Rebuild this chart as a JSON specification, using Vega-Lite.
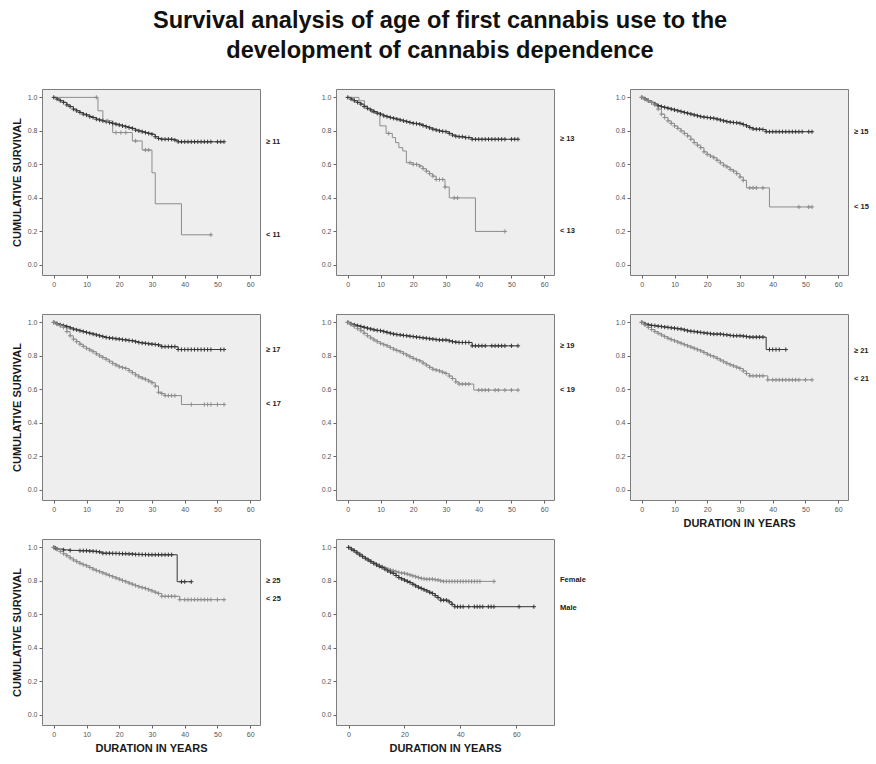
{
"$schema":"https://vega.github.io/schema/vega-lite/v6.json",
"background":"white",
"padding":{"left":10,"top":8,"right":5,"bottom":5},
"title":{"text":["Survival analysis of age of first cannabis use to the","development of cannabis dependence"],"font":"Liberation Sans","fontSize":23.6,"fontWeight":"bold","color":"#111111","lineHeight":30,"offset":26,"anchor":"middle"},
"bounds":"flush",
"columns":3,
"spacing":{"row":39,"column":76},
"datasets":{
"lab":[
{"p":1,"g":"d","txt":"≥ 11","s":0.735},{"p":1,"g":"l","txt":"< 11","s":0.18},
{"p":2,"g":"d","txt":"≥ 13","s":0.75},{"p":2,"g":"l","txt":"< 13","s":0.2},
{"p":3,"g":"d","txt":"≥ 15","s":0.795},{"p":3,"g":"l","txt":"< 15","s":0.346},
{"p":4,"g":"d","txt":"≥ 17","s":0.838},{"p":4,"g":"l","txt":"< 17","s":0.51},
{"p":5,"g":"d","txt":"≥ 19","s":0.86},{"p":5,"g":"l","txt":"< 19","s":0.596},
{"p":6,"g":"d","txt":"≥ 21","s":0.828},{"p":6,"g":"l","txt":"< 21","s":0.66},
{"p":7,"g":"d","txt":"≥ 25","s":0.8},{"p":7,"g":"l","txt":"< 25","s":0.69},
{"p":8,"g":"l","txt":"Female","s":0.805},{"p":8,"g":"d","txt":"Male","s":0.64}
],
"km":[
{"p":1,"g":"d","t":0,"s":1},{"p":1,"g":"d","t":1,"s":0.99},{"p":1,"g":"d","t":2,"s":0.98},{"p":1,"g":"d","t":3,"s":0.97},{"p":1,"g":"d","t":4,"s":0.955},{"p":1,"g":"d","t":5,"s":0.945},{"p":1,"g":"d","t":6,"s":0.93},{"p":1,"g":"d","t":7,"s":0.92},{"p":1,"g":"d","t":8,"s":0.91},{"p":1,"g":"d","t":9,"s":0.9},{"p":1,"g":"d","t":10,"s":0.895},{"p":1,"g":"d","t":11,"s":0.885},{"p":1,"g":"d","t":12,"s":0.88},{"p":1,"g":"d","t":13,"s":0.87},{"p":1,"g":"d","t":14,"s":0.865},{"p":1,"g":"d","t":15,"s":0.86},{"p":1,"g":"d","t":16,"s":0.855},{"p":1,"g":"d","t":17,"s":0.85},{"p":1,"g":"d","t":18,"s":0.845},{"p":1,"g":"d","t":19,"s":0.84},{"p":1,"g":"d","t":20,"s":0.835},{"p":1,"g":"d","t":21,"s":0.83},{"p":1,"g":"d","t":22,"s":0.825},{"p":1,"g":"d","t":23,"s":0.82},{"p":1,"g":"d","t":24,"s":0.815},{"p":1,"g":"d","t":25,"s":0.805},{"p":1,"g":"d","t":26,"s":0.8},{"p":1,"g":"d","t":27,"s":0.795},{"p":1,"g":"d","t":28,"s":0.79},{"p":1,"g":"d","t":29,"s":0.785},{"p":1,"g":"d","t":30,"s":0.78},{"p":1,"g":"d","t":31,"s":0.765},{"p":1,"g":"d","t":32,"s":0.755},{"p":1,"g":"d","t":33,"s":0.75},{"p":1,"g":"d","t":34,"s":0.75},{"p":1,"g":"d","t":35,"s":0.75},{"p":1,"g":"d","t":36,"s":0.75},{"p":1,"g":"d","t":37,"s":0.745},{"p":1,"g":"d","t":38,"s":0.735},{"p":1,"g":"d","t":39,"s":0.735},{"p":1,"g":"d","t":40,"s":0.735},{"p":1,"g":"d","t":41,"s":0.735},{"p":1,"g":"d","t":42,"s":0.735},{"p":1,"g":"d","t":43,"s":0.735},{"p":1,"g":"d","t":44,"s":0.735},{"p":1,"g":"d","t":45,"s":0.735},{"p":1,"g":"d","t":46,"s":0.735},{"p":1,"g":"d","t":47,"s":0.735},{"p":1,"g":"d","t":48,"s":0.735},{"p":1,"g":"d","t":50,"s":0.735},{"p":1,"g":"d","t":51,"s":0.735},{"p":1,"g":"d","t":52,"s":0.735},
{"p":1,"g":"l","t":0,"s":1,"c":0},{"p":1,"g":"l","t":13,"s":1},{"p":1,"g":"l","t":13.5,"s":0.92,"c":0},{"p":1,"g":"l","t":15,"s":0.86,"c":0},{"p":1,"g":"l","t":16.5,"s":0.86},{"p":1,"g":"l","t":18,"s":0.79,"c":0},{"p":1,"g":"l","t":19,"s":0.79},{"p":1,"g":"l","t":20.5,"s":0.79},{"p":1,"g":"l","t":22,"s":0.79},{"p":1,"g":"l","t":24,"s":0.74,"c":0},{"p":1,"g":"l","t":25,"s":0.74},{"p":1,"g":"l","t":27,"s":0.686,"c":0},{"p":1,"g":"l","t":28,"s":0.686},{"p":1,"g":"l","t":29,"s":0.686},{"p":1,"g":"l","t":30,"s":0.55,"c":0},{"p":1,"g":"l","t":31,"s":0.365,"c":0},{"p":1,"g":"l","t":39,"s":0.18,"c":0},{"p":1,"g":"l","t":48,"s":0.18},
{"p":2,"g":"d","t":0,"s":1},{"p":2,"g":"d","t":1,"s":0.99},{"p":2,"g":"d","t":2,"s":0.98},{"p":2,"g":"d","t":3,"s":0.97},{"p":2,"g":"d","t":4,"s":0.96},{"p":2,"g":"d","t":5,"s":0.945},{"p":2,"g":"d","t":6,"s":0.935},{"p":2,"g":"d","t":7,"s":0.925},{"p":2,"g":"d","t":8,"s":0.915},{"p":2,"g":"d","t":9,"s":0.905},{"p":2,"g":"d","t":10,"s":0.9},{"p":2,"g":"d","t":11,"s":0.89},{"p":2,"g":"d","t":12,"s":0.885},{"p":2,"g":"d","t":13,"s":0.88},{"p":2,"g":"d","t":14,"s":0.875},{"p":2,"g":"d","t":15,"s":0.87},{"p":2,"g":"d","t":16,"s":0.865},{"p":2,"g":"d","t":17,"s":0.86},{"p":2,"g":"d","t":18,"s":0.855},{"p":2,"g":"d","t":19,"s":0.85},{"p":2,"g":"d","t":20,"s":0.845},{"p":2,"g":"d","t":21,"s":0.843},{"p":2,"g":"d","t":22,"s":0.84},{"p":2,"g":"d","t":23,"s":0.832},{"p":2,"g":"d","t":24,"s":0.825},{"p":2,"g":"d","t":25,"s":0.818},{"p":2,"g":"d","t":26,"s":0.81},{"p":2,"g":"d","t":27,"s":0.805},{"p":2,"g":"d","t":28,"s":0.8},{"p":2,"g":"d","t":29,"s":0.797},{"p":2,"g":"d","t":30,"s":0.795},{"p":2,"g":"d","t":31,"s":0.785},{"p":2,"g":"d","t":32,"s":0.775},{"p":2,"g":"d","t":33,"s":0.768},{"p":2,"g":"d","t":34,"s":0.765},{"p":2,"g":"d","t":35,"s":0.765},{"p":2,"g":"d","t":36,"s":0.76},{"p":2,"g":"d","t":37,"s":0.76},{"p":2,"g":"d","t":38,"s":0.75},{"p":2,"g":"d","t":39,"s":0.75},{"p":2,"g":"d","t":40,"s":0.75},{"p":2,"g":"d","t":41,"s":0.75},{"p":2,"g":"d","t":42,"s":0.75},{"p":2,"g":"d","t":43,"s":0.75},{"p":2,"g":"d","t":44,"s":0.75},{"p":2,"g":"d","t":45,"s":0.75},{"p":2,"g":"d","t":46,"s":0.75},{"p":2,"g":"d","t":47,"s":0.75},{"p":2,"g":"d","t":48,"s":0.75},{"p":2,"g":"d","t":50,"s":0.75},{"p":2,"g":"d","t":51,"s":0.75},{"p":2,"g":"d","t":52,"s":0.75},
{"p":2,"g":"l","t":0,"s":1,"c":0},{"p":2,"g":"l","t":3.4,"s":0.98,"c":0},{"p":2,"g":"l","t":5.1,"s":0.95,"c":0},{"p":2,"g":"l","t":6,"s":0.93,"c":0},{"p":2,"g":"l","t":7.2,"s":0.91,"c":0},{"p":2,"g":"l","t":9.8,"s":0.83,"c":0},{"p":2,"g":"l","t":11.7,"s":0.785,"c":0},{"p":2,"g":"l","t":12.5,"s":0.785},{"p":2,"g":"l","t":13.6,"s":0.76,"c":0},{"p":2,"g":"l","t":14.6,"s":0.73,"c":0},{"p":2,"g":"l","t":15.6,"s":0.7,"c":0},{"p":2,"g":"l","t":16.8,"s":0.68,"c":0},{"p":2,"g":"l","t":17.9,"s":0.61,"c":0},{"p":2,"g":"l","t":19,"s":0.61},{"p":2,"g":"l","t":20,"s":0.6},{"p":2,"g":"l","t":21,"s":0.6},{"p":2,"g":"l","t":22,"s":0.59},{"p":2,"g":"l","t":23,"s":0.575},{"p":2,"g":"l","t":24,"s":0.56},{"p":2,"g":"l","t":25,"s":0.545},{"p":2,"g":"l","t":26,"s":0.53},{"p":2,"g":"l","t":27,"s":0.51},{"p":2,"g":"l","t":28,"s":0.51},{"p":2,"g":"l","t":29,"s":0.51},{"p":2,"g":"l","t":29.7,"s":0.465},{"p":2,"g":"l","t":31,"s":0.4,"c":0},{"p":2,"g":"l","t":32.5,"s":0.4},{"p":2,"g":"l","t":33.5,"s":0.4},{"p":2,"g":"l","t":39,"s":0.2,"c":0},{"p":2,"g":"l","t":48,"s":0.2},
{"p":3,"g":"d","t":0,"s":1},{"p":3,"g":"d","t":1,"s":0.99},{"p":3,"g":"d","t":2,"s":0.98},{"p":3,"g":"d","t":3,"s":0.97},{"p":3,"g":"d","t":4,"s":0.96},{"p":3,"g":"d","t":5,"s":0.95},{"p":3,"g":"d","t":6,"s":0.945},{"p":3,"g":"d","t":7,"s":0.94},{"p":3,"g":"d","t":8,"s":0.935},{"p":3,"g":"d","t":9,"s":0.93},{"p":3,"g":"d","t":10,"s":0.925},{"p":3,"g":"d","t":11,"s":0.92},{"p":3,"g":"d","t":12,"s":0.915},{"p":3,"g":"d","t":13,"s":0.91},{"p":3,"g":"d","t":14,"s":0.905},{"p":3,"g":"d","t":15,"s":0.9},{"p":3,"g":"d","t":16,"s":0.895},{"p":3,"g":"d","t":17,"s":0.89},{"p":3,"g":"d","t":18,"s":0.885},{"p":3,"g":"d","t":19,"s":0.882},{"p":3,"g":"d","t":20,"s":0.88},{"p":3,"g":"d","t":21,"s":0.877},{"p":3,"g":"d","t":22,"s":0.875},{"p":3,"g":"d","t":23,"s":0.87},{"p":3,"g":"d","t":24,"s":0.865},{"p":3,"g":"d","t":25,"s":0.86},{"p":3,"g":"d","t":26,"s":0.855},{"p":3,"g":"d","t":27,"s":0.852},{"p":3,"g":"d","t":28,"s":0.85},{"p":3,"g":"d","t":29,"s":0.848},{"p":3,"g":"d","t":30,"s":0.845},{"p":3,"g":"d","t":31,"s":0.838},{"p":3,"g":"d","t":32,"s":0.83},{"p":3,"g":"d","t":33,"s":0.82},{"p":3,"g":"d","t":34,"s":0.812},{"p":3,"g":"d","t":35,"s":0.81},{"p":3,"g":"d","t":36,"s":0.81},{"p":3,"g":"d","t":37,"s":0.808},{"p":3,"g":"d","t":38,"s":0.795},{"p":3,"g":"d","t":39,"s":0.795},{"p":3,"g":"d","t":40,"s":0.795},{"p":3,"g":"d","t":41,"s":0.795},{"p":3,"g":"d","t":42,"s":0.795},{"p":3,"g":"d","t":43,"s":0.795},{"p":3,"g":"d","t":44,"s":0.795},{"p":3,"g":"d","t":45,"s":0.795},{"p":3,"g":"d","t":46,"s":0.795},{"p":3,"g":"d","t":47,"s":0.795},{"p":3,"g":"d","t":48,"s":0.795},{"p":3,"g":"d","t":49,"s":0.795},{"p":3,"g":"d","t":51,"s":0.795},{"p":3,"g":"d","t":52,"s":0.795},
{"p":3,"g":"l","t":0,"s":1},{"p":3,"g":"l","t":1,"s":0.99},{"p":3,"g":"l","t":2,"s":0.98},{"p":3,"g":"l","t":3,"s":0.97},{"p":3,"g":"l","t":4,"s":0.955},{"p":3,"g":"l","t":5,"s":0.93},{"p":3,"g":"l","t":6,"s":0.9},{"p":3,"g":"l","t":7,"s":0.88},{"p":3,"g":"l","t":8,"s":0.86},{"p":3,"g":"l","t":9,"s":0.845},{"p":3,"g":"l","t":10,"s":0.83},{"p":3,"g":"l","t":11,"s":0.815},{"p":3,"g":"l","t":12,"s":0.8},{"p":3,"g":"l","t":13,"s":0.785},{"p":3,"g":"l","t":14,"s":0.77},{"p":3,"g":"l","t":15,"s":0.75},{"p":3,"g":"l","t":16,"s":0.73},{"p":3,"g":"l","t":17,"s":0.715},{"p":3,"g":"l","t":18,"s":0.7},{"p":3,"g":"l","t":19,"s":0.675},{"p":3,"g":"l","t":20,"s":0.66},{"p":3,"g":"l","t":21,"s":0.65},{"p":3,"g":"l","t":22,"s":0.64},{"p":3,"g":"l","t":23,"s":0.625},{"p":3,"g":"l","t":24,"s":0.61},{"p":3,"g":"l","t":25,"s":0.595},{"p":3,"g":"l","t":26,"s":0.585},{"p":3,"g":"l","t":27,"s":0.57},{"p":3,"g":"l","t":28,"s":0.56},{"p":3,"g":"l","t":29,"s":0.545},{"p":3,"g":"l","t":30,"s":0.525},{"p":3,"g":"l","t":31,"s":0.505},{"p":3,"g":"l","t":32,"s":0.46,"c":0},{"p":3,"g":"l","t":33,"s":0.46},{"p":3,"g":"l","t":34,"s":0.46},{"p":3,"g":"l","t":35,"s":0.46},{"p":3,"g":"l","t":37,"s":0.46},{"p":3,"g":"l","t":39,"s":0.346,"c":0},{"p":3,"g":"l","t":48,"s":0.346},{"p":3,"g":"l","t":51,"s":0.346},{"p":3,"g":"l","t":52,"s":0.346},
{"p":4,"g":"d","t":0,"s":1},{"p":4,"g":"d","t":1,"s":0.992},{"p":4,"g":"d","t":2,"s":0.985},{"p":4,"g":"d","t":3,"s":0.98},{"p":4,"g":"d","t":4,"s":0.975},{"p":4,"g":"d","t":5,"s":0.967},{"p":4,"g":"d","t":6,"s":0.96},{"p":4,"g":"d","t":7,"s":0.955},{"p":4,"g":"d","t":8,"s":0.95},{"p":4,"g":"d","t":9,"s":0.945},{"p":4,"g":"d","t":10,"s":0.94},{"p":4,"g":"d","t":11,"s":0.935},{"p":4,"g":"d","t":12,"s":0.93},{"p":4,"g":"d","t":13,"s":0.925},{"p":4,"g":"d","t":14,"s":0.92},{"p":4,"g":"d","t":15,"s":0.915},{"p":4,"g":"d","t":16,"s":0.91},{"p":4,"g":"d","t":17,"s":0.907},{"p":4,"g":"d","t":18,"s":0.905},{"p":4,"g":"d","t":19,"s":0.902},{"p":4,"g":"d","t":20,"s":0.9},{"p":4,"g":"d","t":21,"s":0.897},{"p":4,"g":"d","t":22,"s":0.895},{"p":4,"g":"d","t":23,"s":0.892},{"p":4,"g":"d","t":24,"s":0.89},{"p":4,"g":"d","t":25,"s":0.885},{"p":4,"g":"d","t":26,"s":0.88},{"p":4,"g":"d","t":27,"s":0.877},{"p":4,"g":"d","t":28,"s":0.875},{"p":4,"g":"d","t":29,"s":0.872},{"p":4,"g":"d","t":30,"s":0.87},{"p":4,"g":"d","t":31,"s":0.868},{"p":4,"g":"d","t":32,"s":0.865},{"p":4,"g":"d","t":33,"s":0.855},{"p":4,"g":"d","t":34,"s":0.855},{"p":4,"g":"d","t":35,"s":0.855},{"p":4,"g":"d","t":36,"s":0.855},{"p":4,"g":"d","t":37,"s":0.855},{"p":4,"g":"d","t":38,"s":0.838},{"p":4,"g":"d","t":39,"s":0.838},{"p":4,"g":"d","t":40,"s":0.838},{"p":4,"g":"d","t":41,"s":0.838},{"p":4,"g":"d","t":42,"s":0.838},{"p":4,"g":"d","t":43,"s":0.838},{"p":4,"g":"d","t":44,"s":0.838},{"p":4,"g":"d","t":45,"s":0.838},{"p":4,"g":"d","t":46,"s":0.838},{"p":4,"g":"d","t":47,"s":0.838},{"p":4,"g":"d","t":48,"s":0.838},{"p":4,"g":"d","t":51,"s":0.838},{"p":4,"g":"d","t":52,"s":0.838},
{"p":4,"g":"l","t":0,"s":1},{"p":4,"g":"l","t":1,"s":0.99},{"p":4,"g":"l","t":2,"s":0.98},{"p":4,"g":"l","t":3,"s":0.97},{"p":4,"g":"l","t":4,"s":0.945},{"p":4,"g":"l","t":5,"s":0.92},{"p":4,"g":"l","t":6,"s":0.9},{"p":4,"g":"l","t":7,"s":0.885},{"p":4,"g":"l","t":8,"s":0.87},{"p":4,"g":"l","t":9,"s":0.857},{"p":4,"g":"l","t":10,"s":0.845},{"p":4,"g":"l","t":11,"s":0.835},{"p":4,"g":"l","t":12,"s":0.825},{"p":4,"g":"l","t":13,"s":0.812},{"p":4,"g":"l","t":14,"s":0.8},{"p":4,"g":"l","t":15,"s":0.79},{"p":4,"g":"l","t":16,"s":0.78},{"p":4,"g":"l","t":17,"s":0.768},{"p":4,"g":"l","t":18,"s":0.755},{"p":4,"g":"l","t":19,"s":0.745},{"p":4,"g":"l","t":20,"s":0.735},{"p":4,"g":"l","t":21,"s":0.73},{"p":4,"g":"l","t":22,"s":0.725},{"p":4,"g":"l","t":23,"s":0.712},{"p":4,"g":"l","t":24,"s":0.7},{"p":4,"g":"l","t":25,"s":0.687},{"p":4,"g":"l","t":26,"s":0.675},{"p":4,"g":"l","t":27,"s":0.667},{"p":4,"g":"l","t":28,"s":0.66},{"p":4,"g":"l","t":29,"s":0.65},{"p":4,"g":"l","t":30,"s":0.64},{"p":4,"g":"l","t":31,"s":0.62},{"p":4,"g":"l","t":32,"s":0.583},{"p":4,"g":"l","t":33,"s":0.575},{"p":4,"g":"l","t":34,"s":0.563},{"p":4,"g":"l","t":35,"s":0.563},{"p":4,"g":"l","t":36,"s":0.563},{"p":4,"g":"l","t":37,"s":0.563},{"p":4,"g":"l","t":39,"s":0.51,"c":0},{"p":4,"g":"l","t":42,"s":0.51},{"p":4,"g":"l","t":46,"s":0.51},{"p":4,"g":"l","t":47,"s":0.51},{"p":4,"g":"l","t":48,"s":0.51},{"p":4,"g":"l","t":50,"s":0.51},{"p":4,"g":"l","t":52,"s":0.51},
{"p":5,"g":"d","t":0,"s":1},{"p":5,"g":"d","t":1,"s":0.99},{"p":5,"g":"d","t":2,"s":0.985},{"p":5,"g":"d","t":3,"s":0.98},{"p":5,"g":"d","t":4,"s":0.975},{"p":5,"g":"d","t":5,"s":0.97},{"p":5,"g":"d","t":6,"s":0.965},{"p":5,"g":"d","t":7,"s":0.96},{"p":5,"g":"d","t":8,"s":0.955},{"p":5,"g":"d","t":9,"s":0.952},{"p":5,"g":"d","t":10,"s":0.95},{"p":5,"g":"d","t":11,"s":0.945},{"p":5,"g":"d","t":12,"s":0.94},{"p":5,"g":"d","t":13,"s":0.935},{"p":5,"g":"d","t":14,"s":0.93},{"p":5,"g":"d","t":15,"s":0.927},{"p":5,"g":"d","t":16,"s":0.925},{"p":5,"g":"d","t":17,"s":0.922},{"p":5,"g":"d","t":18,"s":0.92},{"p":5,"g":"d","t":19,"s":0.917},{"p":5,"g":"d","t":20,"s":0.915},{"p":5,"g":"d","t":21,"s":0.912},{"p":5,"g":"d","t":22,"s":0.91},{"p":5,"g":"d","t":23,"s":0.907},{"p":5,"g":"d","t":24,"s":0.905},{"p":5,"g":"d","t":25,"s":0.902},{"p":5,"g":"d","t":26,"s":0.9},{"p":5,"g":"d","t":27,"s":0.897},{"p":5,"g":"d","t":28,"s":0.895},{"p":5,"g":"d","t":29,"s":0.895},{"p":5,"g":"d","t":30,"s":0.895},{"p":5,"g":"d","t":31,"s":0.89},{"p":5,"g":"d","t":32,"s":0.885},{"p":5,"g":"d","t":33,"s":0.882},{"p":5,"g":"d","t":34,"s":0.88},{"p":5,"g":"d","t":35,"s":0.88},{"p":5,"g":"d","t":36,"s":0.88},{"p":5,"g":"d","t":37,"s":0.88},{"p":5,"g":"d","t":38,"s":0.86},{"p":5,"g":"d","t":39,"s":0.86},{"p":5,"g":"d","t":40,"s":0.86},{"p":5,"g":"d","t":41,"s":0.86},{"p":5,"g":"d","t":42,"s":0.86},{"p":5,"g":"d","t":44,"s":0.86},{"p":5,"g":"d","t":45,"s":0.86},{"p":5,"g":"d","t":46,"s":0.86},{"p":5,"g":"d","t":47,"s":0.86},{"p":5,"g":"d","t":48,"s":0.86},{"p":5,"g":"d","t":50,"s":0.86},{"p":5,"g":"d","t":52,"s":0.86},
{"p":5,"g":"l","t":0,"s":1},{"p":5,"g":"l","t":1,"s":0.99},{"p":5,"g":"l","t":2,"s":0.975},{"p":5,"g":"l","t":3,"s":0.962},{"p":5,"g":"l","t":4,"s":0.95},{"p":5,"g":"l","t":5,"s":0.935},{"p":5,"g":"l","t":6,"s":0.92},{"p":5,"g":"l","t":7,"s":0.907},{"p":5,"g":"l","t":8,"s":0.895},{"p":5,"g":"l","t":9,"s":0.885},{"p":5,"g":"l","t":10,"s":0.875},{"p":5,"g":"l","t":11,"s":0.867},{"p":5,"g":"l","t":12,"s":0.86},{"p":5,"g":"l","t":13,"s":0.85},{"p":5,"g":"l","t":14,"s":0.84},{"p":5,"g":"l","t":15,"s":0.832},{"p":5,"g":"l","t":16,"s":0.825},{"p":5,"g":"l","t":17,"s":0.815},{"p":5,"g":"l","t":18,"s":0.805},{"p":5,"g":"l","t":19,"s":0.795},{"p":5,"g":"l","t":20,"s":0.785},{"p":5,"g":"l","t":21,"s":0.777},{"p":5,"g":"l","t":22,"s":0.77},{"p":5,"g":"l","t":23,"s":0.757},{"p":5,"g":"l","t":24,"s":0.745},{"p":5,"g":"l","t":25,"s":0.732},{"p":5,"g":"l","t":26,"s":0.72},{"p":5,"g":"l","t":27,"s":0.715},{"p":5,"g":"l","t":28,"s":0.71},{"p":5,"g":"l","t":29,"s":0.702},{"p":5,"g":"l","t":30,"s":0.695},{"p":5,"g":"l","t":31,"s":0.68},{"p":5,"g":"l","t":32,"s":0.665},{"p":5,"g":"l","t":33,"s":0.645},{"p":5,"g":"l","t":34,"s":0.632},{"p":5,"g":"l","t":35,"s":0.632},{"p":5,"g":"l","t":36,"s":0.632},{"p":5,"g":"l","t":37,"s":0.632},{"p":5,"g":"l","t":38.5,"s":0.596,"c":0},{"p":5,"g":"l","t":40,"s":0.596},{"p":5,"g":"l","t":41,"s":0.596},{"p":5,"g":"l","t":42,"s":0.596},{"p":5,"g":"l","t":43,"s":0.596},{"p":5,"g":"l","t":45,"s":0.596},{"p":5,"g":"l","t":46,"s":0.596},{"p":5,"g":"l","t":48,"s":0.596},{"p":5,"g":"l","t":50,"s":0.596},{"p":5,"g":"l","t":52,"s":0.596},
{"p":6,"g":"d","t":0,"s":1},{"p":6,"g":"d","t":1,"s":0.99},{"p":6,"g":"d","t":2,"s":0.985},{"p":6,"g":"d","t":3,"s":0.982},{"p":6,"g":"d","t":4,"s":0.98},{"p":6,"g":"d","t":5,"s":0.977},{"p":6,"g":"d","t":6,"s":0.975},{"p":6,"g":"d","t":7,"s":0.972},{"p":6,"g":"d","t":8,"s":0.97},{"p":6,"g":"d","t":9,"s":0.967},{"p":6,"g":"d","t":10,"s":0.965},{"p":6,"g":"d","t":11,"s":0.962},{"p":6,"g":"d","t":12,"s":0.96},{"p":6,"g":"d","t":13,"s":0.955},{"p":6,"g":"d","t":14,"s":0.95},{"p":6,"g":"d","t":15,"s":0.947},{"p":6,"g":"d","t":16,"s":0.945},{"p":6,"g":"d","t":17,"s":0.942},{"p":6,"g":"d","t":18,"s":0.94},{"p":6,"g":"d","t":19,"s":0.937},{"p":6,"g":"d","t":20,"s":0.935},{"p":6,"g":"d","t":21,"s":0.932},{"p":6,"g":"d","t":22,"s":0.93},{"p":6,"g":"d","t":23,"s":0.93},{"p":6,"g":"d","t":24,"s":0.93},{"p":6,"g":"d","t":25,"s":0.927},{"p":6,"g":"d","t":26,"s":0.925},{"p":6,"g":"d","t":27,"s":0.922},{"p":6,"g":"d","t":28,"s":0.92},{"p":6,"g":"d","t":29,"s":0.92},{"p":6,"g":"d","t":30,"s":0.92},{"p":6,"g":"d","t":31,"s":0.918},{"p":6,"g":"d","t":32,"s":0.915},{"p":6,"g":"d","t":33,"s":0.912},{"p":6,"g":"d","t":34,"s":0.912},{"p":6,"g":"d","t":35,"s":0.912},{"p":6,"g":"d","t":36,"s":0.912},{"p":6,"g":"d","t":37,"s":0.912},{"p":6,"g":"d","t":38,"s":0.838,"c":0},{"p":6,"g":"d","t":39,"s":0.838},{"p":6,"g":"d","t":40,"s":0.838},{"p":6,"g":"d","t":41,"s":0.838},{"p":6,"g":"d","t":42,"s":0.838},{"p":6,"g":"d","t":44,"s":0.838},
{"p":6,"g":"l","t":0,"s":1},{"p":6,"g":"l","t":1,"s":0.985},{"p":6,"g":"l","t":2,"s":0.97},{"p":6,"g":"l","t":3,"s":0.957},{"p":6,"g":"l","t":4,"s":0.945},{"p":6,"g":"l","t":5,"s":0.935},{"p":6,"g":"l","t":6,"s":0.925},{"p":6,"g":"l","t":7,"s":0.915},{"p":6,"g":"l","t":8,"s":0.905},{"p":6,"g":"l","t":9,"s":0.897},{"p":6,"g":"l","t":10,"s":0.89},{"p":6,"g":"l","t":11,"s":0.882},{"p":6,"g":"l","t":12,"s":0.875},{"p":6,"g":"l","t":13,"s":0.867},{"p":6,"g":"l","t":14,"s":0.86},{"p":6,"g":"l","t":15,"s":0.852},{"p":6,"g":"l","t":16,"s":0.845},{"p":6,"g":"l","t":17,"s":0.837},{"p":6,"g":"l","t":18,"s":0.83},{"p":6,"g":"l","t":19,"s":0.82},{"p":6,"g":"l","t":20,"s":0.81},{"p":6,"g":"l","t":21,"s":0.802},{"p":6,"g":"l","t":22,"s":0.795},{"p":6,"g":"l","t":23,"s":0.785},{"p":6,"g":"l","t":24,"s":0.775},{"p":6,"g":"l","t":25,"s":0.765},{"p":6,"g":"l","t":26,"s":0.755},{"p":6,"g":"l","t":27,"s":0.747},{"p":6,"g":"l","t":28,"s":0.74},{"p":6,"g":"l","t":29,"s":0.732},{"p":6,"g":"l","t":30,"s":0.725},{"p":6,"g":"l","t":31,"s":0.71},{"p":6,"g":"l","t":32,"s":0.695},{"p":6,"g":"l","t":33,"s":0.681},{"p":6,"g":"l","t":34,"s":0.681},{"p":6,"g":"l","t":35,"s":0.681},{"p":6,"g":"l","t":36,"s":0.681},{"p":6,"g":"l","t":37,"s":0.681},{"p":6,"g":"l","t":38.5,"s":0.657},{"p":6,"g":"l","t":40,"s":0.657},{"p":6,"g":"l","t":41,"s":0.657},{"p":6,"g":"l","t":42,"s":0.657},{"p":6,"g":"l","t":43,"s":0.657},{"p":6,"g":"l","t":44,"s":0.657},{"p":6,"g":"l","t":45,"s":0.657},{"p":6,"g":"l","t":46,"s":0.657},{"p":6,"g":"l","t":47,"s":0.657},{"p":6,"g":"l","t":48,"s":0.657},{"p":6,"g":"l","t":50,"s":0.657},{"p":6,"g":"l","t":52,"s":0.657},
{"p":7,"g":"d","t":0,"s":1},{"p":7,"g":"d","t":0.5,"s":0.995},{"p":7,"g":"d","t":1,"s":0.99},{"p":7,"g":"d","t":3,"s":0.985},{"p":7,"g":"d","t":5,"s":0.982},{"p":7,"g":"d","t":8,"s":0.98},{"p":7,"g":"d","t":9,"s":0.98},{"p":7,"g":"d","t":10,"s":0.98},{"p":7,"g":"d","t":11,"s":0.978},{"p":7,"g":"d","t":12,"s":0.977},{"p":7,"g":"d","t":13,"s":0.975},{"p":7,"g":"d","t":14,"s":0.972},{"p":7,"g":"d","t":15,"s":0.965},{"p":7,"g":"d","t":16,"s":0.965},{"p":7,"g":"d","t":17,"s":0.965},{"p":7,"g":"d","t":18,"s":0.964},{"p":7,"g":"d","t":19,"s":0.964},{"p":7,"g":"d","t":20,"s":0.963},{"p":7,"g":"d","t":21,"s":0.962},{"p":7,"g":"d","t":22,"s":0.962},{"p":7,"g":"d","t":23,"s":0.961},{"p":7,"g":"d","t":24,"s":0.96},{"p":7,"g":"d","t":25,"s":0.958},{"p":7,"g":"d","t":26,"s":0.958},{"p":7,"g":"d","t":27,"s":0.957},{"p":7,"g":"d","t":28,"s":0.957},{"p":7,"g":"d","t":29,"s":0.956},{"p":7,"g":"d","t":30,"s":0.956},{"p":7,"g":"d","t":31,"s":0.956},{"p":7,"g":"d","t":32,"s":0.956},{"p":7,"g":"d","t":33,"s":0.956},{"p":7,"g":"d","t":34,"s":0.956},{"p":7,"g":"d","t":35,"s":0.956},{"p":7,"g":"d","t":36,"s":0.956},{"p":7,"g":"d","t":37.7,"s":0.795,"c":0},{"p":7,"g":"d","t":39,"s":0.795},{"p":7,"g":"d","t":40,"s":0.795},{"p":7,"g":"d","t":42,"s":0.795},
{"p":7,"g":"l","t":0,"s":1},{"p":7,"g":"l","t":1,"s":0.99},{"p":7,"g":"l","t":2,"s":0.975},{"p":7,"g":"l","t":3,"s":0.962},{"p":7,"g":"l","t":4,"s":0.95},{"p":7,"g":"l","t":5,"s":0.937},{"p":7,"g":"l","t":6,"s":0.925},{"p":7,"g":"l","t":7,"s":0.915},{"p":7,"g":"l","t":8,"s":0.905},{"p":7,"g":"l","t":9,"s":0.897},{"p":7,"g":"l","t":10,"s":0.89},{"p":7,"g":"l","t":11,"s":0.88},{"p":7,"g":"l","t":12,"s":0.87},{"p":7,"g":"l","t":13,"s":0.862},{"p":7,"g":"l","t":14,"s":0.855},{"p":7,"g":"l","t":15,"s":0.847},{"p":7,"g":"l","t":16,"s":0.84},{"p":7,"g":"l","t":17,"s":0.832},{"p":7,"g":"l","t":18,"s":0.825},{"p":7,"g":"l","t":19,"s":0.817},{"p":7,"g":"l","t":20,"s":0.81},{"p":7,"g":"l","t":21,"s":0.802},{"p":7,"g":"l","t":22,"s":0.795},{"p":7,"g":"l","t":23,"s":0.787},{"p":7,"g":"l","t":24,"s":0.78},{"p":7,"g":"l","t":25,"s":0.772},{"p":7,"g":"l","t":26,"s":0.765},{"p":7,"g":"l","t":27,"s":0.76},{"p":7,"g":"l","t":28,"s":0.755},{"p":7,"g":"l","t":29,"s":0.747},{"p":7,"g":"l","t":30,"s":0.74},{"p":7,"g":"l","t":31,"s":0.732},{"p":7,"g":"l","t":32,"s":0.725},{"p":7,"g":"l","t":33,"s":0.708},{"p":7,"g":"l","t":34,"s":0.708},{"p":7,"g":"l","t":35,"s":0.708},{"p":7,"g":"l","t":36,"s":0.708},{"p":7,"g":"l","t":37,"s":0.708},{"p":7,"g":"l","t":38.5,"s":0.688},{"p":7,"g":"l","t":40,"s":0.688},{"p":7,"g":"l","t":41,"s":0.688},{"p":7,"g":"l","t":42,"s":0.688},{"p":7,"g":"l","t":43,"s":0.688},{"p":7,"g":"l","t":44,"s":0.688},{"p":7,"g":"l","t":45,"s":0.688},{"p":7,"g":"l","t":46,"s":0.688},{"p":7,"g":"l","t":47,"s":0.688},{"p":7,"g":"l","t":48,"s":0.688},{"p":7,"g":"l","t":50,"s":0.688},{"p":7,"g":"l","t":52,"s":0.688},
{"p":8,"g":"l","t":0,"s":1},{"p":8,"g":"l","t":1,"s":0.99},{"p":8,"g":"l","t":2,"s":0.98},{"p":8,"g":"l","t":3,"s":0.97},{"p":8,"g":"l","t":4,"s":0.96},{"p":8,"g":"l","t":5,"s":0.947},{"p":8,"g":"l","t":6,"s":0.935},{"p":8,"g":"l","t":7,"s":0.925},{"p":8,"g":"l","t":8,"s":0.915},{"p":8,"g":"l","t":9,"s":0.907},{"p":8,"g":"l","t":10,"s":0.9},{"p":8,"g":"l","t":11,"s":0.892},{"p":8,"g":"l","t":12,"s":0.885},{"p":8,"g":"l","t":13,"s":0.877},{"p":8,"g":"l","t":14,"s":0.87},{"p":8,"g":"l","t":15,"s":0.865},{"p":8,"g":"l","t":16,"s":0.86},{"p":8,"g":"l","t":17,"s":0.855},{"p":8,"g":"l","t":18,"s":0.85},{"p":8,"g":"l","t":19,"s":0.847},{"p":8,"g":"l","t":20,"s":0.845},{"p":8,"g":"l","t":21,"s":0.84},{"p":8,"g":"l","t":22,"s":0.835},{"p":8,"g":"l","t":23,"s":0.83},{"p":8,"g":"l","t":24,"s":0.825},{"p":8,"g":"l","t":25,"s":0.82},{"p":8,"g":"l","t":26,"s":0.815},{"p":8,"g":"l","t":27,"s":0.812},{"p":8,"g":"l","t":28,"s":0.81},{"p":8,"g":"l","t":29,"s":0.81},{"p":8,"g":"l","t":30,"s":0.81},{"p":8,"g":"l","t":31,"s":0.807},{"p":8,"g":"l","t":32,"s":0.805},{"p":8,"g":"l","t":33,"s":0.8},{"p":8,"g":"l","t":34,"s":0.797},{"p":8,"g":"l","t":35,"s":0.797},{"p":8,"g":"l","t":36,"s":0.797},{"p":8,"g":"l","t":37,"s":0.797},{"p":8,"g":"l","t":38,"s":0.797},{"p":8,"g":"l","t":39,"s":0.797},{"p":8,"g":"l","t":40,"s":0.797},{"p":8,"g":"l","t":41,"s":0.797},{"p":8,"g":"l","t":42,"s":0.797},{"p":8,"g":"l","t":43,"s":0.797},{"p":8,"g":"l","t":44,"s":0.797},{"p":8,"g":"l","t":45,"s":0.797},{"p":8,"g":"l","t":46,"s":0.797},{"p":8,"g":"l","t":47,"s":0.797},{"p":8,"g":"l","t":52,"s":0.797},
{"p":8,"g":"d","t":0,"s":1},{"p":8,"g":"d","t":1,"s":0.99},{"p":8,"g":"d","t":2,"s":0.98},{"p":8,"g":"d","t":3,"s":0.967},{"p":8,"g":"d","t":4,"s":0.955},{"p":8,"g":"d","t":5,"s":0.945},{"p":8,"g":"d","t":6,"s":0.935},{"p":8,"g":"d","t":7,"s":0.925},{"p":8,"g":"d","t":8,"s":0.915},{"p":8,"g":"d","t":9,"s":0.905},{"p":8,"g":"d","t":10,"s":0.895},{"p":8,"g":"d","t":11,"s":0.887},{"p":8,"g":"d","t":12,"s":0.88},{"p":8,"g":"d","t":13,"s":0.87},{"p":8,"g":"d","t":14,"s":0.86},{"p":8,"g":"d","t":15,"s":0.852},{"p":8,"g":"d","t":16,"s":0.845},{"p":8,"g":"d","t":17,"s":0.832},{"p":8,"g":"d","t":18,"s":0.82},{"p":8,"g":"d","t":19,"s":0.812},{"p":8,"g":"d","t":20,"s":0.805},{"p":8,"g":"d","t":21,"s":0.797},{"p":8,"g":"d","t":22,"s":0.79},{"p":8,"g":"d","t":23,"s":0.78},{"p":8,"g":"d","t":24,"s":0.77},{"p":8,"g":"d","t":25,"s":0.762},{"p":8,"g":"d","t":26,"s":0.755},{"p":8,"g":"d","t":27,"s":0.747},{"p":8,"g":"d","t":28,"s":0.74},{"p":8,"g":"d","t":29,"s":0.732},{"p":8,"g":"d","t":30,"s":0.725},{"p":8,"g":"d","t":31,"s":0.712},{"p":8,"g":"d","t":32,"s":0.7},{"p":8,"g":"d","t":33,"s":0.685},{"p":8,"g":"d","t":34,"s":0.685},{"p":8,"g":"d","t":35,"s":0.685},{"p":8,"g":"d","t":36,"s":0.675},{"p":8,"g":"d","t":37,"s":0.66},{"p":8,"g":"d","t":38,"s":0.646},{"p":8,"g":"d","t":39,"s":0.646},{"p":8,"g":"d","t":40,"s":0.646},{"p":8,"g":"d","t":41,"s":0.646},{"p":8,"g":"d","t":43,"s":0.646},{"p":8,"g":"d","t":45,"s":0.646},{"p":8,"g":"d","t":46,"s":0.646},{"p":8,"g":"d","t":47,"s":0.646},{"p":8,"g":"d","t":48,"s":0.646},{"p":8,"g":"d","t":50,"s":0.646},{"p":8,"g":"d","t":51,"s":0.646},{"p":8,"g":"d","t":52,"s":0.646},{"p":8,"g":"d","t":61,"s":0.646},{"p":8,"g":"d","t":66.3,"s":0.646}
]
},
"concat":[
{"width":218,"height":186,
"encoding":{"x":{"field":"t","type":"quantitative","scale":{"domain":[-3.6,63],"nice":false,"zero":false},"axis":{"values":[0,10,20,30,40,50,60],"title":null}},"y":{"field":"s","type":"quantitative","scale":{"domain":[-0.06,1.05],"nice":false,"zero":false},"axis":{"values":[0,0.2,0.4,0.6,0.8,1],"format":".1f","title":"CUMULATIVE SURVIVAL"}},"color":{"field":"g","type":"nominal","scale":{"domain":["d","l"],"range":["#363636","#8c8c8c"]},"legend":null}},
"layer":[
{"data":{"name":"km"},"transform":[{"filter":"datum.p==1"}],"mark":{"type":"line","interpolate":"step-after","strokeWidth":1}},
{"data":{"name":"km"},"transform":[{"filter":"datum.p==1 && datum.c!==0"}],"mark":{"type":"point","shape":"M-1,0H1M0,-1V1","size":18,"filled":false,"strokeWidth":1,"opacity":1}},
{"data":{"name":"lab"},"transform":[{"filter":"datum.p==1"}],"mark":{"type":"text","align":"left","baseline":"middle","dx":6,"fontSize":7.5,"fontWeight":"bold","font":"Liberation Sans"},"encoding":{"x":{"value":"width"},"text":{"field":"txt"},"color":{"value":"#222222"}}}
]},
{"width":218,"height":186,
"encoding":{"x":{"field":"t","type":"quantitative","scale":{"domain":[-3.6,63],"nice":false,"zero":false},"axis":{"values":[0,10,20,30,40,50,60],"title":null}},"y":{"field":"s","type":"quantitative","scale":{"domain":[-0.06,1.05],"nice":false,"zero":false},"axis":{"values":[0,0.2,0.4,0.6,0.8,1],"format":".1f","title":null}},"color":{"field":"g","type":"nominal","scale":{"domain":["d","l"],"range":["#363636","#8c8c8c"]},"legend":null}},
"layer":[
{"data":{"name":"km"},"transform":[{"filter":"datum.p==2"}],"mark":{"type":"line","interpolate":"step-after","strokeWidth":1}},
{"data":{"name":"km"},"transform":[{"filter":"datum.p==2 && datum.c!==0"}],"mark":{"type":"point","shape":"M-1,0H1M0,-1V1","size":18,"filled":false,"strokeWidth":1,"opacity":1}},
{"data":{"name":"lab"},"transform":[{"filter":"datum.p==2"}],"mark":{"type":"text","align":"left","baseline":"middle","dx":6,"fontSize":7.5,"fontWeight":"bold","font":"Liberation Sans"},"encoding":{"x":{"value":"width"},"text":{"field":"txt"},"color":{"value":"#222222"}}}
]},
{"width":218,"height":186,
"encoding":{"x":{"field":"t","type":"quantitative","scale":{"domain":[-3.6,63],"nice":false,"zero":false},"axis":{"values":[0,10,20,30,40,50,60],"title":null}},"y":{"field":"s","type":"quantitative","scale":{"domain":[-0.06,1.05],"nice":false,"zero":false},"axis":{"values":[0,0.2,0.4,0.6,0.8,1],"format":".1f","title":null}},"color":{"field":"g","type":"nominal","scale":{"domain":["d","l"],"range":["#363636","#8c8c8c"]},"legend":null}},
"layer":[
{"data":{"name":"km"},"transform":[{"filter":"datum.p==3"}],"mark":{"type":"line","interpolate":"step-after","strokeWidth":1}},
{"data":{"name":"km"},"transform":[{"filter":"datum.p==3 && datum.c!==0"}],"mark":{"type":"point","shape":"M-1,0H1M0,-1V1","size":18,"filled":false,"strokeWidth":1,"opacity":1}},
{"data":{"name":"lab"},"transform":[{"filter":"datum.p==3"}],"mark":{"type":"text","align":"left","baseline":"middle","dx":6,"fontSize":7.5,"fontWeight":"bold","font":"Liberation Sans"},"encoding":{"x":{"value":"width"},"text":{"field":"txt"},"color":{"value":"#222222"}}}
]},
{"width":218,"height":186,
"encoding":{"x":{"field":"t","type":"quantitative","scale":{"domain":[-3.6,63],"nice":false,"zero":false},"axis":{"values":[0,10,20,30,40,50,60],"title":null}},"y":{"field":"s","type":"quantitative","scale":{"domain":[-0.06,1.05],"nice":false,"zero":false},"axis":{"values":[0,0.2,0.4,0.6,0.8,1],"format":".1f","title":"CUMULATIVE SURVIVAL"}},"color":{"field":"g","type":"nominal","scale":{"domain":["d","l"],"range":["#363636","#8c8c8c"]},"legend":null}},
"layer":[
{"data":{"name":"km"},"transform":[{"filter":"datum.p==4"}],"mark":{"type":"line","interpolate":"step-after","strokeWidth":1}},
{"data":{"name":"km"},"transform":[{"filter":"datum.p==4 && datum.c!==0"}],"mark":{"type":"point","shape":"M-1,0H1M0,-1V1","size":18,"filled":false,"strokeWidth":1,"opacity":1}},
{"data":{"name":"lab"},"transform":[{"filter":"datum.p==4"}],"mark":{"type":"text","align":"left","baseline":"middle","dx":6,"fontSize":7.5,"fontWeight":"bold","font":"Liberation Sans"},"encoding":{"x":{"value":"width"},"text":{"field":"txt"},"color":{"value":"#222222"}}}
]},
{"width":218,"height":186,
"encoding":{"x":{"field":"t","type":"quantitative","scale":{"domain":[-3.6,63],"nice":false,"zero":false},"axis":{"values":[0,10,20,30,40,50,60],"title":null}},"y":{"field":"s","type":"quantitative","scale":{"domain":[-0.06,1.05],"nice":false,"zero":false},"axis":{"values":[0,0.2,0.4,0.6,0.8,1],"format":".1f","title":null}},"color":{"field":"g","type":"nominal","scale":{"domain":["d","l"],"range":["#363636","#8c8c8c"]},"legend":null}},
"layer":[
{"data":{"name":"km"},"transform":[{"filter":"datum.p==5"}],"mark":{"type":"line","interpolate":"step-after","strokeWidth":1}},
{"data":{"name":"km"},"transform":[{"filter":"datum.p==5 && datum.c!==0"}],"mark":{"type":"point","shape":"M-1,0H1M0,-1V1","size":18,"filled":false,"strokeWidth":1,"opacity":1}},
{"data":{"name":"lab"},"transform":[{"filter":"datum.p==5"}],"mark":{"type":"text","align":"left","baseline":"middle","dx":6,"fontSize":7.5,"fontWeight":"bold","font":"Liberation Sans"},"encoding":{"x":{"value":"width"},"text":{"field":"txt"},"color":{"value":"#222222"}}}
]},
{"width":218,"height":186,
"encoding":{"x":{"field":"t","type":"quantitative","scale":{"domain":[-3.6,63],"nice":false,"zero":false},"axis":{"values":[0,10,20,30,40,50,60],"title":"DURATION IN YEARS"}},"y":{"field":"s","type":"quantitative","scale":{"domain":[-0.06,1.05],"nice":false,"zero":false},"axis":{"values":[0,0.2,0.4,0.6,0.8,1],"format":".1f","title":null}},"color":{"field":"g","type":"nominal","scale":{"domain":["d","l"],"range":["#363636","#8c8c8c"]},"legend":null}},
"layer":[
{"data":{"name":"km"},"transform":[{"filter":"datum.p==6"}],"mark":{"type":"line","interpolate":"step-after","strokeWidth":1}},
{"data":{"name":"km"},"transform":[{"filter":"datum.p==6 && datum.c!==0"}],"mark":{"type":"point","shape":"M-1,0H1M0,-1V1","size":18,"filled":false,"strokeWidth":1,"opacity":1}},
{"data":{"name":"lab"},"transform":[{"filter":"datum.p==6"}],"mark":{"type":"text","align":"left","baseline":"middle","dx":6,"fontSize":7.5,"fontWeight":"bold","font":"Liberation Sans"},"encoding":{"x":{"value":"width"},"text":{"field":"txt"},"color":{"value":"#222222"}}}
]},
{"width":218,"height":186,
"encoding":{"x":{"field":"t","type":"quantitative","scale":{"domain":[-3.6,63],"nice":false,"zero":false},"axis":{"values":[0,10,20,30,40,50,60],"title":"DURATION IN YEARS"}},"y":{"field":"s","type":"quantitative","scale":{"domain":[-0.06,1.05],"nice":false,"zero":false},"axis":{"values":[0,0.2,0.4,0.6,0.8,1],"format":".1f","title":"CUMULATIVE SURVIVAL"}},"color":{"field":"g","type":"nominal","scale":{"domain":["d","l"],"range":["#363636","#8c8c8c"]},"legend":null}},
"layer":[
{"data":{"name":"km"},"transform":[{"filter":"datum.p==7"}],"mark":{"type":"line","interpolate":"step-after","strokeWidth":1}},
{"data":{"name":"km"},"transform":[{"filter":"datum.p==7 && datum.c!==0"}],"mark":{"type":"point","shape":"M-1,0H1M0,-1V1","size":18,"filled":false,"strokeWidth":1,"opacity":1}},
{"data":{"name":"lab"},"transform":[{"filter":"datum.p==7"}],"mark":{"type":"text","align":"left","baseline":"middle","dx":6,"fontSize":7.5,"fontWeight":"bold","font":"Liberation Sans"},"encoding":{"x":{"value":"width"},"text":{"field":"txt"},"color":{"value":"#222222"}}}
]},
{"width":218,"height":186,
"encoding":{"x":{"field":"t","type":"quantitative","scale":{"domain":[-4.5,73.5],"nice":false,"zero":false},"axis":{"values":[0,20,40,60],"title":"DURATION IN YEARS"}},"y":{"field":"s","type":"quantitative","scale":{"domain":[-0.06,1.05],"nice":false,"zero":false},"axis":{"values":[0,0.2,0.4,0.6,0.8,1],"format":".1f","title":null}},"color":{"field":"g","type":"nominal","scale":{"domain":["d","l"],"range":["#363636","#8c8c8c"]},"legend":null}},
"layer":[
{"data":{"name":"km"},"transform":[{"filter":"datum.p==8"}],"mark":{"type":"line","interpolate":"step-after","strokeWidth":1}},
{"data":{"name":"km"},"transform":[{"filter":"datum.p==8 && datum.c!==0"}],"mark":{"type":"point","shape":"M-1,0H1M0,-1V1","size":18,"filled":false,"strokeWidth":1,"opacity":1}},
{"data":{"name":"lab"},"transform":[{"filter":"datum.p==8"}],"mark":{"type":"text","align":"left","baseline":"middle","dx":6,"fontSize":7.5,"fontWeight":"bold","font":"Liberation Sans"},"encoding":{"x":{"value":"width"},"text":{"field":"txt"},"color":{"value":"#222222"}}}
]}
],
"config":{
"font":"Liberation Sans",
"view":{"fill":"#eeeeee","stroke":"#7d7d7d","strokeWidth":1},
"axis":{"grid":false,"domain":false,"labelOverlap":false,"labelFlush":false,"labelFont":"Liberation Sans","labelFontSize":7,"labelColor":"#555555","tickColor":"#666666","tickSize":3,"labelPadding":2,"titleFont":"Liberation Sans","titleFontSize":11,"titleFontWeight":"bold","titleColor":"#1a1a1a","titlePadding":5}
}
}
